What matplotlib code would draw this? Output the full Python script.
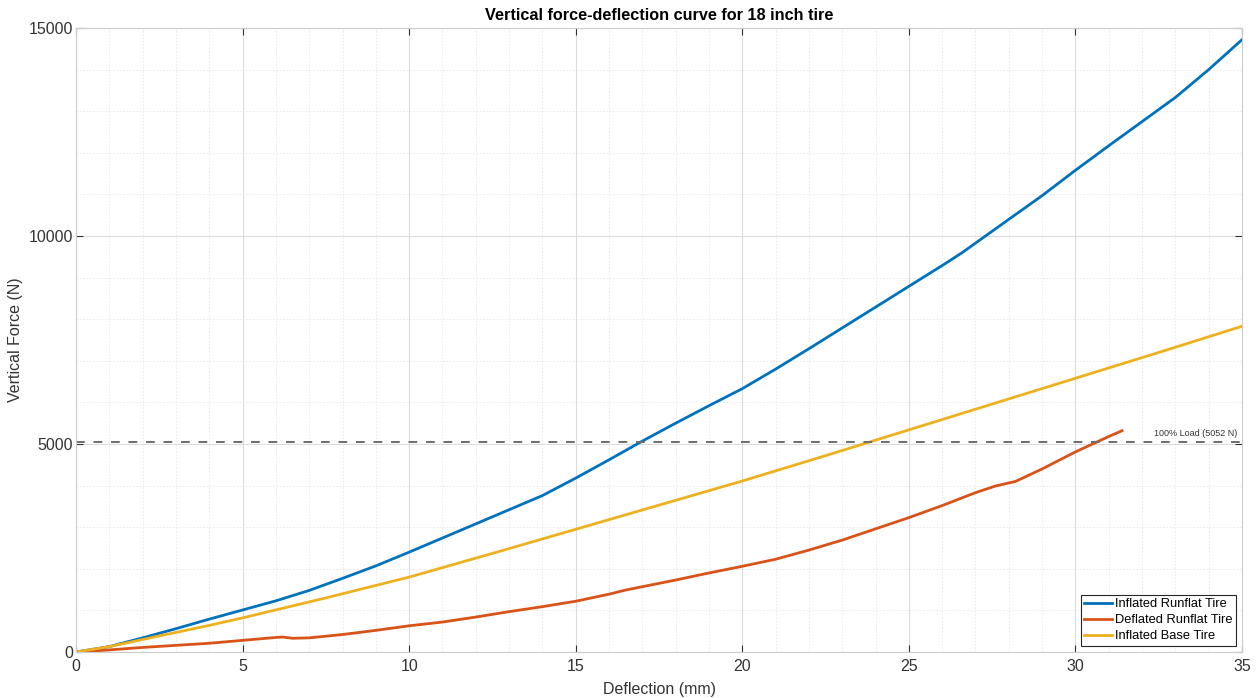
import numpy as np
import matplotlib.pyplot as plt
from matplotlib.ticker import MultipleLocator

plt.rcParams['font.family'] = ['Liberation Sans', 'DejaVu Sans']

# inflated runflat tire
x_inf = [0, 1, 2, 3, 4, 5, 6, 7, 8, 9, 10, 11, 12, 13, 14, 15, 16, 17, 18, 19, 20,
         21, 22, 23, 24, 25, 26, 26.6, 28, 29, 30, 31, 32, 33, 34, 35]
f_inf = [0, 130, 340, 560, 790, 1010, 1230, 1480, 1770, 2070, 2400, 2740, 3080, 3420, 3760, 4180,
         4620, 5070, 5500, 5920, 6330, 6800, 7290, 7790, 8290, 8790, 9290, 9600, 10400, 10970, 11580,
         12170, 12750, 13330, 14000, 14720]

# deflated runflat tire
x_def = [0, 1, 2, 3, 4, 5, 6, 6.2, 6.5, 7, 8, 9, 10, 11, 12, 13, 14, 15, 16, 16.5, 17, 18, 19, 20,
         21, 22, 23, 24, 25, 26, 27, 27.6, 28.2, 29, 30, 31, 31.4]
f_def = [0, 50, 110, 160, 210, 280, 350, 360, 330, 340, 420, 520, 630, 720, 840, 970, 1090, 1220,
         1390, 1490, 1570, 1730, 1900, 2060, 2230, 2450, 2690, 2960, 3230, 3520, 3830, 3990, 4100,
         4400, 4810, 5180, 5320]

# inflated base tire
x_base = [0, 1, 2, 3, 4, 5, 7.5, 10, 12.5, 15, 17.5, 20, 22.5, 25, 27.5, 30, 32.5, 35]
f_base = [0, 130, 300, 470, 640, 820, 1300, 1800, 2370, 2950, 3530, 4110, 4720, 5340, 5960, 6580, 7200, 7830]

load_100 = 5052

fig = plt.figure(figsize=(12.58, 6.98), dpi=100)
ax = fig.add_axes([0.0604, 0.0659, 0.9269, 0.894])

ax.plot(x_inf, f_inf, color='#0072BD', lw=2, label='Inflated Runflat Tire')
ax.plot(x_def, f_def, color='#D95319', lw=2, label='Deflated Runflat Tire')
ax.plot(x_base, f_base, color='#EDB120', lw=2, label='Inflated Base Tire')
ax.axhline(load_100, color='#6e6e6e', lw=1.4, ls=(0, (4.5, 4.5)))
ax.text(34.85, load_100 + 90, '100% Load (5052 N)', ha='right', va='bottom', fontsize=6.5, color='#333333')

ax.set_xlim(0, 35)
ax.set_ylim(0, 15000)
ax.xaxis.set_major_locator(MultipleLocator(5))
ax.xaxis.set_minor_locator(MultipleLocator(1))
ax.yaxis.set_major_locator(MultipleLocator(5000))
ax.yaxis.set_minor_locator(MultipleLocator(1000))
ax.grid(which='major', color='#dcdcdc', lw=0.8)
ax.grid(which='minor', color='#e8e8e8', lw=0.6, ls=(0, (2, 2)))
ax.set_axisbelow(True)
ax.tick_params(which='both', direction='in', top=True, right=True, labelsize=11.5, colors='#333333')
ax.tick_params(which='major', length=5)
ax.tick_params(axis='x', which='major', pad=5)
ax.tick_params(axis='y', which='major', pad=2)
ax.tick_params(which='minor', length=0)
for s in ax.spines.values():
    s.set_color('#cccccc')

ax.set_xlabel('Deflection (mm)', fontsize=11.5, color='#333333', labelpad=6)
ax.set_ylabel('Vertical Force (N)', fontsize=11.5, color='#333333', labelpad=4)
ax.set_title('Vertical force-deflection curve for 18 inch tire', fontsize=11.7, fontweight='bold', pad=6)

leg = ax.legend(loc='lower right', fontsize=9.3, fancybox=False, framealpha=1, edgecolor='#262626',
                borderaxespad=0.5, handlelength=2.1, handletextpad=0.25, labelspacing=0.3,
                borderpad=0.25)
leg.get_frame().set_linewidth(0.8)

fig.savefig('out.png', dpi=100)
